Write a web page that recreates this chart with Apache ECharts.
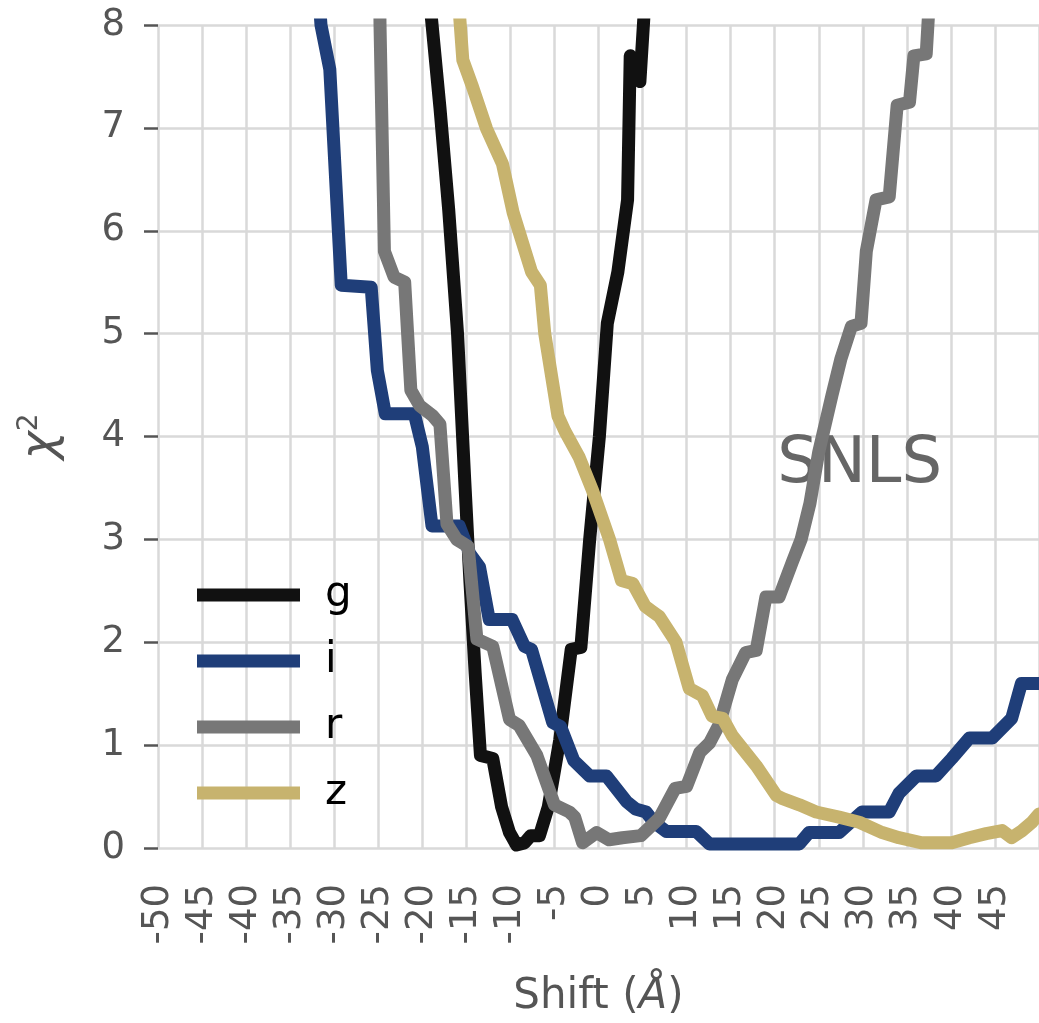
<!DOCTYPE html>
<html>
<head>
<meta charset="utf-8">
<script src="https://cdn.jsdelivr.net/npm/echarts@6/dist/echarts.min.js"></script>
<style>
html,body{margin:0;padding:0;background:#fff;}
#chart{width:1039px;height:1023px;}
</style>
</head>
<body>
<div id="chart"></div>
<script>
// ---- data ----
const seriesNames = ['g', 'i', 'r', 'z'];
const xTicks = { min: -50, max: 50, step: 5 };
const yTicks = { min: 0, max: 8, step: 1 };

const gX = [-20.0, -19.0, -18.0, -17.0, -16.0, -15.2, -14.6, -14.0, -13.4, -12.0, -11.0, -10.1, -9.3, -8.4, -7.7, -6.7, -5.7, -4.4, -3.1, -2.0, -1.0, 0.1, 1.0, 2.2, 3.3, 3.6, 4.7, 5.6];
const gY = [9.3, 8.1, 7.2, 6.2, 5.0, 3.6, 2.6, 1.7, 0.9, 0.87, 0.4, 0.15, 0.03, 0.05, 0.12, 0.12, 0.4, 1.05, 1.93, 1.95, 3.0, 4.0, 5.1, 5.6, 6.3, 7.7, 7.45, 8.7];

const iX = [-32.0, -31.5, -30.5, -29.2, -25.8, -25.1, -24.2, -20.9, -20.0, -18.9, -15.8, -14.6, -13.5, -12.4, -9.8, -8.4, -7.6, -5.2, -4.3, -2.8, -1.0, 0.9, 3.2, 4.2, 5.4, 6.3, 7.7, 11.1, 12.6, 22.8, 23.9, 27.3, 29.9, 33.0, 34.1, 36.1, 38.3, 40.1, 42.1, 44.7, 46.9, 48.0, 50.0];
const iY = [8.6, 8.0, 7.57, 5.47, 5.45, 4.64, 4.22, 4.22, 3.9, 3.13, 3.13, 2.86, 2.73, 2.22, 2.22, 1.96, 1.93, 1.22, 1.18, 0.85, 0.7, 0.7, 0.45, 0.38, 0.35, 0.25, 0.16, 0.16, 0.04, 0.04, 0.15, 0.15, 0.35, 0.35, 0.53, 0.7, 0.7, 0.87, 1.07, 1.07, 1.26, 1.6, 1.6];

const rX = [-25.0, -24.8, -24.3, -23.2, -22.0, -21.3, -20.3, -18.8, -18.0, -17.2, -16.1, -14.8, -13.8, -12.0, -10.1, -9.0, -7.0, -5.0, -3.3, -2.7, -1.8, -0.2, 1.2, 2.7, 4.8, 6.9, 8.7, 10.0, 11.5, 12.6, 13.7, 15.2, 16.7, 17.9, 19.0, 20.5, 22.0, 23.0, 24.0, 25.0, 26.5, 27.5, 28.7, 29.8, 30.4, 31.5, 33.0, 33.9, 35.3, 35.8, 37.2, 37.8];
const rY = [9.5, 8.0, 5.8, 5.55, 5.5, 4.45, 4.3, 4.2, 4.12, 3.15, 3.0, 2.93, 2.03, 1.96, 1.25, 1.19, 0.9, 0.42, 0.35, 0.3, 0.05, 0.15, 0.08, 0.1, 0.12, 0.29, 0.58, 0.6, 0.93, 1.02, 1.2, 1.64, 1.9, 1.92, 2.44, 2.44, 2.78, 3.0, 3.35, 3.85, 4.4, 4.75, 5.07, 5.1, 5.8, 6.3, 6.33, 7.22, 7.25, 7.7, 7.72, 8.6];

const zX = [-16.2, -15.4, -14.3, -12.7, -10.9, -9.7, -7.6, -6.6, -6.1, -4.6, -3.8, -2.2, -0.7, 1.25, 2.6, 3.9, 5.3, 6.1, 6.9, 8.8, 10.3, 11.8, 12.9, 14.1, 15.2, 17.9, 20.2, 20.9, 22.8, 24.7, 27.3, 29.6, 32.2, 34.1, 36.7, 40.1, 42.1, 44.0, 45.8, 46.9, 48.1, 49.2, 50.0];
const zY = [8.6, 7.66, 7.4, 6.99, 6.65, 6.18, 5.6, 5.47, 5.0, 4.2, 4.05, 3.8, 3.48, 3.0, 2.6, 2.57, 2.35, 2.3, 2.25, 2.0, 1.55, 1.48, 1.28, 1.26, 1.09, 0.8, 0.51, 0.48, 0.42, 0.35, 0.3, 0.25, 0.15, 0.1, 0.05, 0.05, 0.1, 0.14, 0.17, 0.1, 0.17, 0.25, 0.33];

const annotationText = 'SNLS';
const annotationAt = [20.3, 3.72];

// ---- styles ----
const colors = { g: '#111111', i: '#1f3e79', r: '#777777', z: '#c7b36e' };
const FONT = "'DejaVu Sans', sans-serif";
const zip = (xs, ys) => xs.map((x, k) => [x, ys[k]]);
const dataBy = { g: zip(gX, gY), i: zip(iX, iY), r: zip(rX, rY), z: zip(zX, zY) };

const chart = echarts.init(document.getElementById('chart'), null, { renderer: 'canvas' });

const series = seriesNames.map(n => ({
  name: n,
  type: 'line',
  data: dataBy[n],
  color: colors[n],
  symbol: 'none',
  showSymbol: false,
  clip: true,
  lineStyle: { width: 13, color: colors[n], cap: 'round', join: 'round' },
  emphasis: { disabled: true },
  animation: false
}));

chart.setOption({
  animation: false,
  backgroundColor: '#fff',
  grid: { left: 158, right: 0, top: 25, bottom: 170 },
  xAxis: {
    type: 'value',
    min: xTicks.min, max: xTicks.max, interval: xTicks.step,
    axisLine: { show: false, onZero: false },
    axisTick: { show: false },
    splitLine: { show: true, lineStyle: { color: '#d9d9d9', width: 2.5 } },
    axisLabel: { rotate: 90, fontSize: 37, color: '#555', margin: 36, fontFamily: FONT, showMaxLabel: false },
    name: 'Shift ({a|Å})',
    nameLocation: 'middle',
    nameGap: 128,
    nameTextStyle: {
      fontSize: 42, color: '#555', fontFamily: FONT,
      rich: { a: { fontSize: 42, color: '#555', fontStyle: 'italic', fontFamily: FONT } }
    }
  },
  yAxis: {
    type: 'value',
    min: yTicks.min, max: yTicks.max, interval: yTicks.step,
    axisLine: { show: false, onZero: false },
    axisTick: { show: true, length: 14, lineStyle: { color: '#555', width: 2.5 } },
    splitLine: { show: true, lineStyle: { color: '#d9d9d9', width: 2.5 } },
    axisLabel: { fontSize: 37, color: '#555', margin: 33, fontFamily: FONT },
    name: '{c|χ}{s|2}',
    nameLocation: 'middle',
    nameRotate: 90,
    nameGap: 90,
    nameTextStyle: {
      color: '#555', fontFamily: FONT, padding: [0, 0, 0, 0],
      rich: {
        c: { fontSize: 48, fontStyle: 'italic', color: '#555', fontFamily: FONT, lineHeight: 52 },
        s: { fontSize: 28, color: '#555', fontFamily: FONT, verticalAlign: 'top', lineHeight: 52 }
      }
    }
  },
  legend: {
    orient: 'vertical',
    left: 192, top: 569,
    itemWidth: 103, itemHeight: 13, itemGap: 24,
    icon: 'rect',
    selectedMode: false,
    data: seriesNames,
    textStyle: { fontSize: 42, color: '#000', lineHeight: 42, fontFamily: FONT, padding: [0, 0, 0, 20] }
  },
  series: series
});

const p = chart.convertToPixel({ gridIndex: 0 }, annotationAt);
chart.setOption({
  graphic: [{
    type: 'text',
    x: p[0], y: p[1],
    style: { text: annotationText, fill: '#666', fontSize: 64, fontFamily: FONT, align: 'left', verticalAlign: 'middle' },
    silent: true
  }]
});
</script>
</body>
</html>
